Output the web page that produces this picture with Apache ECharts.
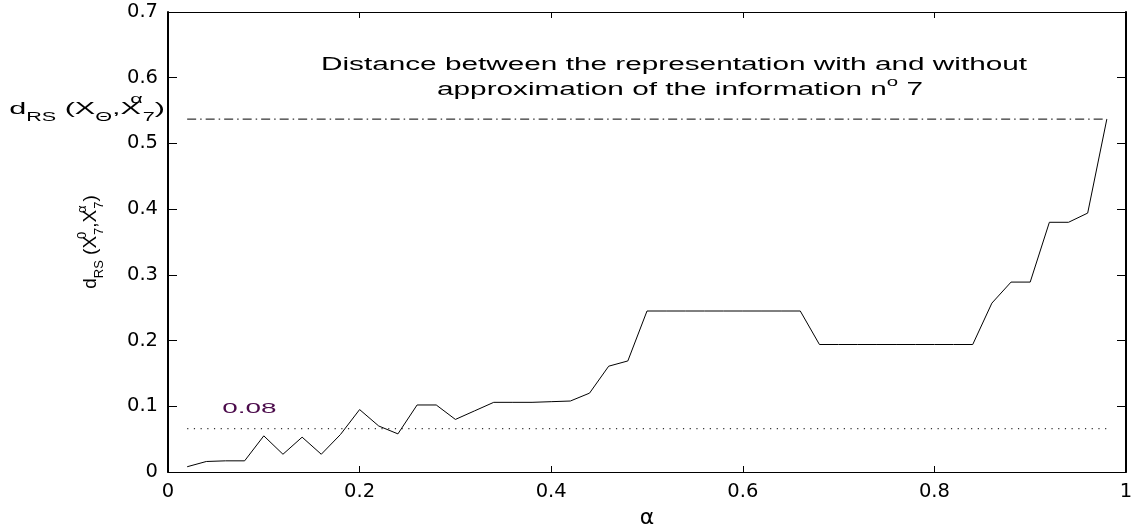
<!DOCTYPE html>
<html>
<head>
<meta charset="utf-8">
<title>Distance d_RS vs alpha</title>
<script src="https://cdn.jsdelivr.net/npm/echarts@6/dist/echarts.min.js"></script>
<style>
  html, body { margin: 0; padding: 0; background: #fff; }
  #chart { width: 1136px; height: 526px; }
</style>
</head>
<body>
<div id="chart"></div>
<script>
// valeurs
const alpha = [0.02, 0.04, 0.06, 0.08, 0.10, 0.12, 0.14, 0.16, 0.18, 0.20,
               0.22, 0.24, 0.26, 0.28, 0.30, 0.32, 0.34, 0.36, 0.38, 0.40,
               0.42, 0.44, 0.46, 0.48, 0.50, 0.52, 0.54, 0.56, 0.58, 0.60,
               0.62, 0.64, 0.66, 0.68, 0.70, 0.72, 0.74, 0.76, 0.78, 0.80,
               0.82, 0.84, 0.86, 0.88, 0.90, 0.92, 0.94, 0.96, 0.98];
const distance = [0.008, 0.016, 0.017, 0.017, 0.055, 0.027, 0.053, 0.027, 0.057, 0.095,
                  0.070, 0.058, 0.102, 0.102, 0.080, 0.093, 0.106, 0.106, 0.106, 0.107,
                  0.108, 0.120, 0.161, 0.169, 0.245, 0.245, 0.245, 0.245, 0.245, 0.245,
                  0.245, 0.245, 0.245, 0.194, 0.194, 0.194, 0.194, 0.194, 0.194, 0.194,
                  0.194, 0.194, 0.257, 0.289, 0.289, 0.380, 0.380, 0.394, 0.537];

// lignes horizontales de reference
const refSpan = [0.02, 0.98];
const thresholdLevel = 0.066;
const thresholdText = '0.08';
const fullLevel = 0.537;

const xTicks = { min: 0, max: 1, interval: 0.2 };
const yTicks = { min: 0, max: 0.7, interval: 0.1 };

const titleLines = ['Distance between the representation with and without',
                    'approximation of the information n', 'o', ' 7'];

const labelFont = 'DejaVu Sans';
const textFont = 'Liberation Sans';

function tickFmt(v) {
    if (v === 0 || v === 1) return String(v);
    return v.toFixed(1);
}

const chart = echarts.init(document.getElementById('chart'));

const axisLine = (w) => ({ show: true, onZero: false, lineStyle: { color: '#000', width: w } });

const option = {
    backgroundColor: '#fff',
    animation: false,
    grid: { left: 168, right: 10, top: 12, bottom: 54, containLabel: false, outerBoundsMode: 'none' },
    xAxis: [{
        type: 'value',
        position: 'bottom',
        min: xTicks.min, max: xTicks.max, interval: xTicks.interval,
        name: 'α',
        nameLocation: 'middle',
        nameGap: 23,
        nameTextStyle: { fontFamily: labelFont, fontSize: 22, color: '#000' },
        axisLine: axisLine(1.2),
        axisTick: { inside: true, length: 6, lineStyle: { color: '#000' } },
        axisLabel: { fontFamily: labelFont, fontSize: 19.5, color: '#000', margin: 10, formatter: tickFmt },
        splitLine: { show: false }
    }, {
        type: 'value',
        position: 'top',
        min: xTicks.min, max: xTicks.max, interval: xTicks.interval,
        axisLine: axisLine(1.2),
        axisTick: { inside: true, length: 6, lineStyle: { color: '#000' } },
        axisLabel: { show: false },
        splitLine: { show: false }
    }],
    yAxis: [{
        type: 'value',
        position: 'left',
        min: yTicks.min, max: yTicks.max, interval: yTicks.interval,
        name: '{d|d}{s|RS}{d| (X}{p|0}{s|7}{d|,X}{p|α}{s|7}{d|)}',
        nameLocation: 'middle',
        nameGap: 62,
        nameTextStyle: {
            color: '#000',
            rich: {
                d: { fontFamily: textFont, fontSize: 19, lineHeight: 30, color: '#000' },
                s: { fontFamily: textFont, fontSize: 13, lineHeight: 13, verticalAlign: 'bottom', color: '#000' },
                p: { fontFamily: textFont, fontSize: 13, lineHeight: 13, verticalAlign: 'top', width: 1, color: '#000' }
            }
        },
        axisLine: axisLine(2),
        axisTick: { inside: true, length: 9, lineStyle: { color: '#000' } },
        axisLabel: { fontFamily: labelFont, fontSize: 19.5, color: '#000', margin: 10, formatter: tickFmt },
        splitLine: { show: false }
    }, {
        type: 'value',
        position: 'right',
        min: yTicks.min, max: yTicks.max, interval: yTicks.interval,
        axisLine: axisLine(2),
        axisTick: { inside: true, length: 9, lineStyle: { color: '#000' } },
        axisLabel: { show: false },
        splitLine: { show: false }
    }],
    series: [{
        // courbe principale
        type: 'line',
        data: alpha.map((a, i) => [a, distance[i]]),
        showSymbol: false,
        silent: true,
        lineStyle: { color: '#000', width: 1 },
        z: 3
    }, {
        // seuil en pointilles
        type: 'line',
        data: [[refSpan[0], thresholdLevel], [refSpan[1], thresholdLevel]],
        showSymbol: false,
        silent: true,
        lineStyle: { color: '#333', width: 1.2, type: [1.2, 5.5] },
        z: 2
    }, {
        // distance sans approximation (trait-point)
        type: 'line',
        data: [[refSpan[0], fullLevel], [refSpan[1], fullLevel]],
        showSymbol: false,
        silent: true,
        lineStyle: { color: '#000', width: 1, type: [9, 4, 1.5, 4] },
        z: 2
    }]
};

chart.setOption(option);

// textes etires comme sur la figure d'origine
const refPt = chart.convertToPixel({ gridIndex: 0 }, [0, fullLevel]);
const thrPt = chart.convertToPixel({ gridIndex: 0 }, [refSpan[0], thresholdLevel]);
chart.setOption({
    graphic: [{
        type: 'text',
        x: 674, y: 65,
        scaleX: 1.7,
        silent: true,
        style: {
            text: titleLines[0],
            fontFamily: textFont, fontSize: 17.5, fill: '#000',
            align: 'center', verticalAlign: 'middle'
        }
    }, {
        type: 'text',
        x: 680, y: 90,
        scaleX: 1.7,
        silent: true,
        style: {
            text: '{m|' + titleLines[1] + '}{o|' + titleLines[2] + '}{m|' + titleLines[3] + '}',
            align: 'center', verticalAlign: 'middle',
            rich: {
                m: { fontFamily: textFont, fontSize: 17.5, lineHeight: 26, fill: '#000' },
                o: { fontFamily: textFont, fontSize: 12, lineHeight: 12, verticalAlign: 'top', fill: '#000' }
            }
        }
    }, {
        type: 'text',
        x: refPt[0] - 3, y: refPt[1] - 10,
        scaleX: 1.8,
        silent: true,
        style: {
            text: '{d|d}{s|RS}{d| (X}{s|Θ}{d|,X}{p|α}{s|7}{d|)}',
            align: 'right', verticalAlign: 'middle',
            rich: {
                d: { fontFamily: textFont, fontSize: 17, lineHeight: 30, fill: '#000' },
                s: { fontFamily: textFont, fontSize: 12, lineHeight: 12, verticalAlign: 'bottom', fill: '#000' },
                p: { fontFamily: textFont, fontSize: 12, lineHeight: 12, verticalAlign: 'top', width: 1, fill: '#000' }
            }
        }
    }, {
        type: 'text',
        x: thrPt[0] + 35, y: thrPt[1] - 20,
        scaleX: 1.8,
        silent: true,
        style: {
            text: thresholdText,
            fontFamily: textFont, fontSize: 15.5, fill: '#4b0b4b',
            align: 'left', verticalAlign: 'middle'
        }
    }]
});

window.addEventListener('resize', () => chart.resize());
</script>
</body>
</html>
